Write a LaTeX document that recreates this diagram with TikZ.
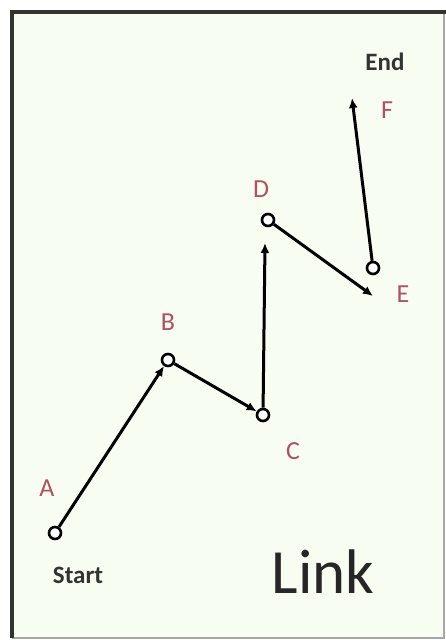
\documentclass[tikz,border=0pt]{standalone}
\usepackage{fontspec}
\setmainfont{Carlito}
\usepackage{tikz}
\usetikzlibrary{calc, positioning, arrows.meta}

\begin{document}
\begin{tikzpicture}[x=1pt, y=-1pt, >={Latex[length=10pt, width=9pt]}]
    % colours
    \definecolor{paper}{RGB}{248, 253, 242}
    \definecolor{labelred}{RGB}{176, 80, 96}
    \definecolor{frameline}{RGB}{50, 52, 48}
    \tikzset{
        pt/.style={circle, draw, line width=2.6pt, fill=white, inner sep=0pt, minimum size=12pt},
        vec/.style={->, line width=3pt},
        lbl/.style={text=labelred, font=\fontsize{26}{26}\selectfont},
        tag/.style={text=black!80, font=\bfseries\fontsize{25}{25}\selectfont}
    }
    \useasboundingbox (0,0) rectangle (446,640);

    % 1. Background and frame
    \fill[paper] (12,12) rectangle (444,638);
    \draw[gray!70, line width=2pt] (444,12) -- (444,638) -- (12,638);
    \draw[frameline, line width=4pt] (12,638) -- (12,12) -- (446,12);

    % 2. Points
    \node[pt] (A) at (55,533) {};
    \node[pt] (B) at (168,360) {};
    \node[pt] (C) at (263,415) {};
    \node[pt] (D) at (268,220) {};
    \node[pt] (E) at (373,268) {};
    \coordinate (hC) at (265,243);
    \coordinate (hD) at (373,296);
    \coordinate (F) at (352,98);

    % 3. Vectors
    \draw[vec] (A) -- (B);
    \draw[vec] (B) -- (C);
    \draw[vec] (C) -- (hC);
    \draw[vec] (D) -- (hD);
    \draw[vec] (E) -- (F);

    % 4. Labels
    \node[lbl] (lA) at (47,488) {A};
    \node[lbl] (lB) at (168,322) {B};
    \node[lbl] (lC) at (293,451) {C};
    \node[lbl] (lD) at (261,189) {D};
    \node[lbl] (lE) at (403,294) {E};
    \node[lbl] (lF) at (387,110) {F};
    \node[tag] (start) at (78,575) {Start};
    \node[tag] (end) at (385,62) {End};
    \node[font=\fontsize{63}{63}\selectfont, text=black!85] (link) at (323,572) {Link};
\end{tikzpicture}
\end{document}
